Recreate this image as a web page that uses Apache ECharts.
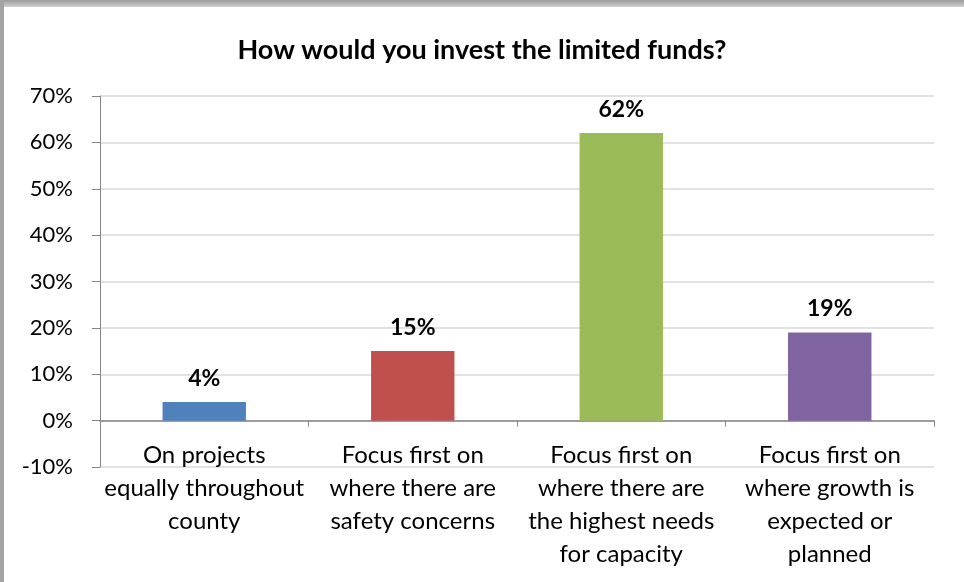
<!DOCTYPE html>
<html>
<head>
<meta charset="utf-8">
<script src="https://cdn.jsdelivr.net/npm/echarts@6/dist/echarts.min.js"></script>
<style>
  html, body { margin: 0; padding: 0; background: #fff; }
  #chart { width: 964px; height: 582px; }
</style>
</head>
<body>
<div id="chart"></div>
<script>
// Survey answers: how limited funds should be invested
const categories = [
  'On projects\nequally throughout\ncounty',
  'Focus first on\nwhere there are\nsafety concerns',
  'Focus first on\nwhere there are\nthe highest needs\nfor capacity',
  'Focus first on\nwhere growth is\nexpected or\nplanned'
];
const shares = [4, 15, 62, 19];
const barColors = ['#4F81BD', '#C0504D', '#9BBB59', '#8064A2'];
const yTicks = { min: -10, max: 70, step: 10 };

const FONT = 'Lato, "Open Sans", sans-serif';
const chart = echarts.init(document.getElementById('chart'), null, { renderer: 'canvas' });

chart.setOption({
  backgroundColor: '#ffffff',
  animation: false,
  title: {
    text: 'How would you invest the limited funds?',
    left: 'center',
    top: 32,
    textStyle: { fontFamily: FONT, fontWeight: 'bold', fontSize: 27, color: '#000' }
  },
  graphic: [
    {
      type: 'rect', left: 0, top: 0, z: 100,
      shape: { width: 964, height: 7 },
      style: {
        fill: new echarts.graphic.LinearGradient(0, 0, 0, 1, [
          { offset: 0, color: '#9c9c9c' },
          { offset: 1, color: '#cfcfcf' }
        ])
      }
    },
    {
      type: 'rect', left: 0, top: 0, z: 100,
      shape: { width: 4, height: 582 },
      style: { fill: '#a3a3a3' }
    }
  ],
  grid: { left: 100, right: 30, top: 96, bottom: 115, containLabel: false, outerBoundsMode: 'none' },
  xAxis: {
    type: 'category',
    data: categories,
    axisLine: { onZero: true, lineStyle: { color: '#868686', width: 1.5 } },
    axisTick: { show: true, length: 6, lineStyle: { color: '#868686' } },
    axisLabel: {
      interval: 0,
      margin: -28,
      fontFamily: FONT,
      fontSize: 24,
      lineHeight: 33,
      color: '#000',
      align: 'center'
    }
  },
  yAxis: {
    type: 'value',
    min: yTicks.min,
    max: yTicks.max,
    interval: yTicks.step,
    axisLine: { show: true, lineStyle: { color: '#868686', width: 1 } },
    axisTick: { show: true, length: 8, lineStyle: { color: '#868686' } },
    axisLabel: {
      margin: 27,
      fontFamily: FONT,
      fontSize: 22,
      color: '#000',
      formatter: v => v + '%'
    },
    splitLine: { show: true, lineStyle: { color: '#d9d9d9', width: 1.5 } }
  },
  series: [{
    type: 'bar',
    barWidth: '40%',
    data: shares.map((v, i) => ({ value: v, itemStyle: { color: barColors[i] } })),
    label: {
      show: true,
      position: 'top',
      distance: 12,
      fontFamily: FONT,
      fontWeight: 'bold',
      fontSize: 23,
      color: '#000',
      formatter: p => p.value + '%'
    }
  }]
});
</script>
</body>
</html>
